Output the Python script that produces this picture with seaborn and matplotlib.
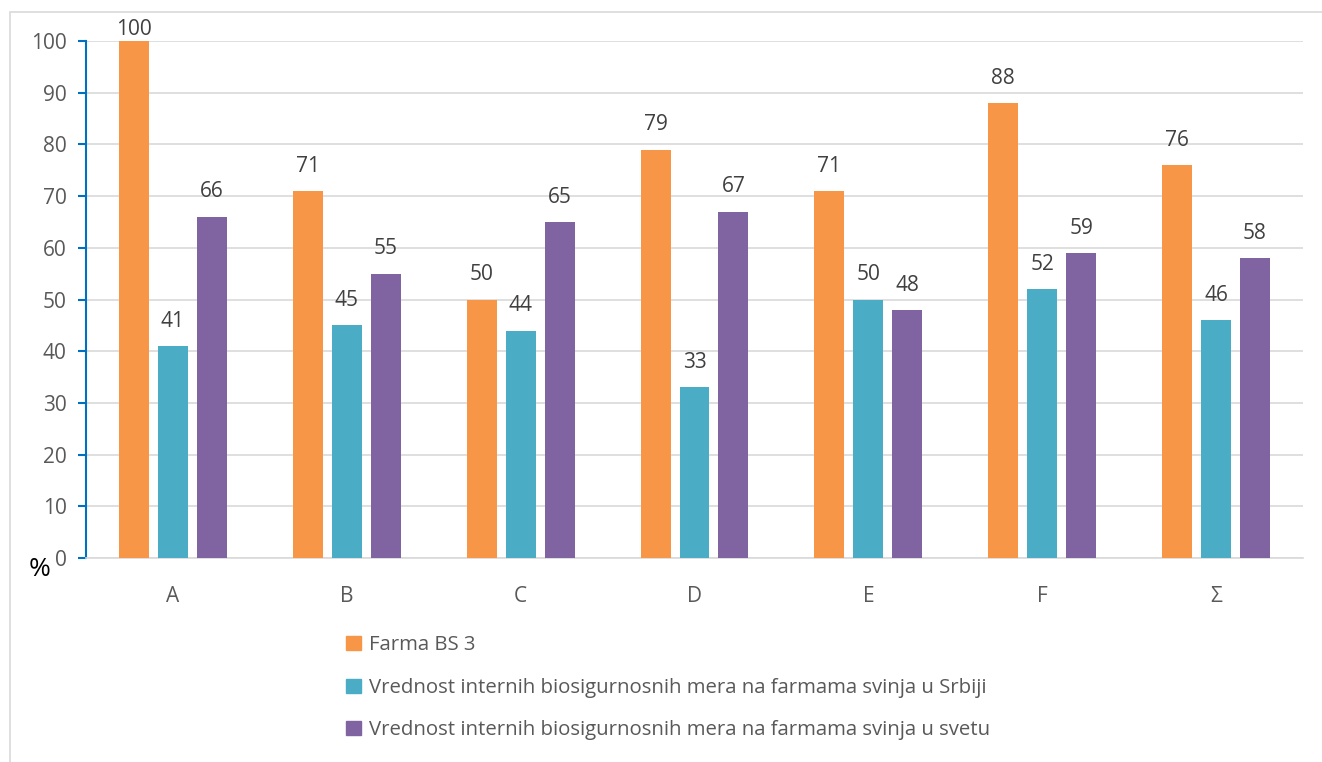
import pandas as pd
import matplotlib.pyplot as plt
import matplotlib.patches as mpatches
import seaborn as sns

# data
categories = ['A', 'B', 'C', 'D', 'E', 'F', 'Σ']
farma_bs3 = [100, 71, 50, 79, 71, 88, 76]
srbija = [41, 45, 44, 33, 50, 52, 46]
svet = [66, 55, 65, 67, 48, 59, 58]
series_names = [
    'Farma BS 3',
    'Vrednost internih biosigurnosnih mera na farmama svinja u Srbiji',
    'Vrednost internih biosigurnosnih mera na farmama svinja u svetu',
]
colors = ['#F79646', '#4BACC6', '#8064A2']

df = pd.DataFrame({
    'Kategorija': categories * 3,
    'Vrednost': farma_bs3 + srbija + svet,
    'Serija': [s for s in series_names for _ in categories],
})

sns.set_style('white')
plt.rcParams['font.family'] = ['Open Sans', 'DejaVu Sans']
text_color = '#595959'

fig = plt.figure(figsize=(13.22, 7.62), dpi=100)
ax = fig.add_axes([86 / 1322, 1 - 558 / 762, (1303 - 86) / 1322, (558 - 41) / 762])

sns.barplot(data=df, x='Kategorija', y='Vrednost', hue='Serija', palette=colors,
            saturation=1, width=0.672, gap=0.23, dodge=True, errorbar=None,
            ax=ax, legend=False, linewidth=0, zorder=3)

# value labels above bars, kept inside the plot area like Excel does
for cont in ax.containers:
    for bar in cont:
        h = bar.get_height()
        ax.text(bar.get_x() + bar.get_width() / 2, min(h + 4.8, 102.2), f'{h:.0f}',
                ha='center', va='center', fontsize=15, color='#404040', clip_on=False)

ax.set_ylim(0, 100)
ax.set_xlim(-0.5, 6.5)
ax.set_yticks(range(0, 101, 10))
ax.yaxis.grid(True, color='#D9D9D9', linewidth=1.2, zorder=0)
ax.set_xlabel('')
ax.set_ylabel('')
ax.tick_params(axis='y', labelsize=15, labelcolor=text_color, color='#0070C0',
               length=6, width=1.5, direction='out', left=True, pad=8)
ax.tick_params(axis='x', labelsize=15, labelcolor=text_color, length=0, pad=20)
for s in ['top', 'right']:
    ax.spines[s].set_visible(False)
ax.spines['left'].set_color('#0070C0')
ax.spines['left'].set_linewidth(1.5)
ax.spines['bottom'].set_color('#D9D9D9')
ax.spines['bottom'].set_linewidth(1.2)

fig.text(40 / 1322, 1 - 570 / 762, '%', fontsize=19, color='black', ha='center', va='center')

handles = [mpatches.Patch(color=c, label=n) for c, n in zip(colors, series_names)]
fig.legend(handles=handles, loc='upper left', bbox_to_anchor=(328 / 1322, 1 - 617 / 762),
           frameon=False, fontsize=14.7, labelcolor=text_color, handlelength=0.7,
           handleheight=0.7, handletextpad=0.4, labelspacing=1.1)

# light frame around the chart area
fig.patches.append(mpatches.Rectangle((10 / 1322, -0.1), 1.2, 1 - 12 / 762 + 0.1,
                                      transform=fig.transFigure, fill=False,
                                      edgecolor='#D9D9D9', linewidth=1.2))

fig.savefig('out.png', dpi=100)
